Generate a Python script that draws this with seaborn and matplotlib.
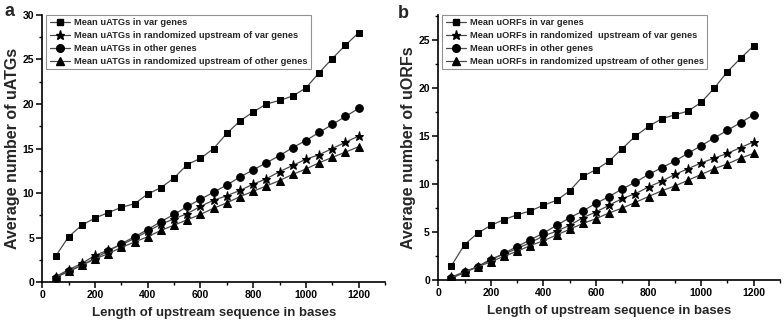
import numpy as np
import pandas as pd
import matplotlib
matplotlib.use("Agg")
import matplotlib.pyplot as plt
from matplotlib.ticker import MultipleLocator
import seaborn as sns

lengths = [50, 100, 150, 200, 250, 300, 350, 400, 450, 500, 550, 600,
           650, 700, 750, 800, 850, 900, 950, 1000, 1050, 1100, 1150, 1200]

# Panel a: uATGs
a_var = [2.9, 5.1, 6.4, 7.2, 7.8, 8.4, 8.8, 9.9, 10.6, 11.7, 13.2, 13.9,
         15.0, 16.7, 18.1, 19.1, 20.0, 20.4, 20.9, 21.8, 23.5, 25.1, 26.6, 28.0]
a_rand_var = [0.6, 1.4, 2.1, 3.0, 3.6, 4.2, 4.9, 5.7, 6.5, 7.1, 7.7, 8.5,
              9.2, 9.7, 10.3, 11.0, 11.6, 12.4, 13.1, 13.8, 14.3, 15.0, 15.7, 16.4]
a_other = [0.5, 1.2, 1.9, 2.7, 3.5, 4.3, 5.1, 5.9, 6.8, 7.6, 8.5, 9.3,
           10.1, 10.9, 11.8, 12.6, 13.4, 14.2, 15.1, 15.9, 16.8, 17.7, 18.6, 19.5]
a_rand_other = [0.6, 1.2, 1.9, 2.6, 3.2, 3.9, 4.5, 5.1, 5.8, 6.4, 7.0, 7.6,
                8.3, 8.9, 9.6, 10.2, 10.8, 11.4, 12.1, 12.7, 13.4, 14.0, 14.6, 15.2]

# Panel b: uORFs
b_var = [1.5, 3.7, 4.9, 5.7, 6.3, 6.8, 7.2, 7.8, 8.3, 9.3, 10.8, 11.5,
         12.4, 13.7, 15.0, 16.0, 16.8, 17.2, 17.6, 18.5, 20.0, 21.7, 23.1, 24.4]
b_rand_var = [0.3, 0.9, 1.4, 2.2, 2.7, 3.3, 3.9, 4.6, 5.1, 5.7, 6.5, 7.1,
              7.8, 8.5, 9.0, 9.7, 10.3, 11.0, 11.6, 12.2, 12.7, 13.2, 13.8, 14.4]
b_other = [0.2, 0.8, 1.4, 2.1, 2.8, 3.5, 4.2, 4.9, 5.7, 6.5, 7.2, 8.0,
           8.7, 9.5, 10.2, 11.0, 11.7, 12.4, 13.2, 14.0, 14.8, 15.6, 16.4, 17.2]
b_rand_other = [0.3, 0.8, 1.4, 1.9, 2.5, 3.0, 3.6, 4.1, 4.7, 5.3, 5.9, 6.4,
                7.0, 7.5, 8.1, 8.7, 9.3, 9.8, 10.4, 11.0, 11.6, 12.1, 12.7, 13.2]

a_labels = ["Mean uATGs in var genes",
            "Mean uATGs in randomized upstream of var genes",
            "Mean uATGs in other genes",
            "Mean uATGs in randomized upstream of other genes"]
b_labels = ["Mean uORFs in var genes",
            "Mean uORFs in randomized  upstream of var genes",
            "Mean uORFs in other genes",
            "Mean uORFs in randomized upstream of other genes"]
markers = ["s", "*", "o", "^"]
marker_sizes = [5, 6.5, 5.5, 5.5]

sns.set_theme(style="ticks")
plt.rcParams['font.family'] = ['Liberation Sans', 'DejaVu Sans']
plt.rcParams['font.weight'] = 'bold'

fig = plt.figure(figsize=(7.84, 3.25), dpi=100)
ax_a = fig.add_axes([0.054, 0.132, 0.437, 0.822])
ax_b = fig.add_axes([0.559, 0.138, 0.436, 0.816])


def draw(ax, series, labels, ymax, ylabel):
    frames = []
    for lab, vals in zip(labels, series):
        frames.append(pd.DataFrame({"length": lengths, "value": vals, "series": lab}))
    df = pd.concat(frames, ignore_index=True)
    handles = []
    for lab, m, ms in zip(labels, markers, marker_sizes):
        sub = df[df["series"] == lab]
        sns.lineplot(data=sub, x="length", y="value", ax=ax, color="#4a4a4a",
                     lw=0.9, marker=m, markersize=ms, markerfacecolor="black",
                     markeredgecolor="black", label=lab, legend=False)
        handles.append(plt.Line2D([], [], color="#4a4a4a", lw=0.9, marker=m,
                                  markersize=ms, markerfacecolor="black",
                                  markeredgecolor="black"))
    ax.set_xlim(0, 1300)
    ax.set_ylim(0, ymax)
    ax.xaxis.set_major_locator(MultipleLocator(200))
    ax.xaxis.set_minor_locator(MultipleLocator(100))
    ax.yaxis.set_major_locator(MultipleLocator(5))
    ax.yaxis.set_minor_locator(MultipleLocator(2.5))
    sns.despine(ax=ax)
    for s in ["left", "bottom"]:
        ax.spines[s].set_linewidth(1.2)
        ax.spines[s].set_color("black")
    ax.tick_params(axis="both", which="major", direction="out", length=4,
                   width=1.1, labelsize=7.5, colors="black", pad=2)
    ax.tick_params(axis="both", which="minor", direction="out", length=2.5,
                   width=1.0, colors="black")
    for t in ax.get_xticklabels() + ax.get_yticklabels():
        t.set_fontweight("bold")
    ax.set_xlabel("Length of upstream sequence in bases", fontsize=9.5,
                  fontweight="bold", labelpad=5)
    ax.set_ylabel(ylabel, fontsize=11.5, fontweight="bold", labelpad=2)
    leg = ax.legend(handles, labels, loc="upper left",
                    bbox_to_anchor=(0.012, 1.0), frameon=True, fancybox=False,
                    prop={"size": 6.7, "weight": "bold"}, handlelength=2.2,
                    handletextpad=0.4, labelspacing=0.42, borderpad=0.35,
                    borderaxespad=0.0)
    leg.get_frame().set_edgecolor("#777777")
    leg.get_frame().set_linewidth(0.8)
    return leg


draw(ax_a, [a_var, a_rand_var, a_other, a_rand_other], a_labels, 30,
     "Average number of uATGs")
draw(ax_b, [b_var, b_rand_var, b_other, b_rand_other], b_labels, 27.6,
     "Average number of uORFs")

fig.text(0.006, 0.965, "a", fontsize=13, fontweight="bold", va="center")
fig.text(0.508, 0.96, "b", fontsize=13, fontweight="bold", va="center")

fig.savefig("out.png", dpi=100)
